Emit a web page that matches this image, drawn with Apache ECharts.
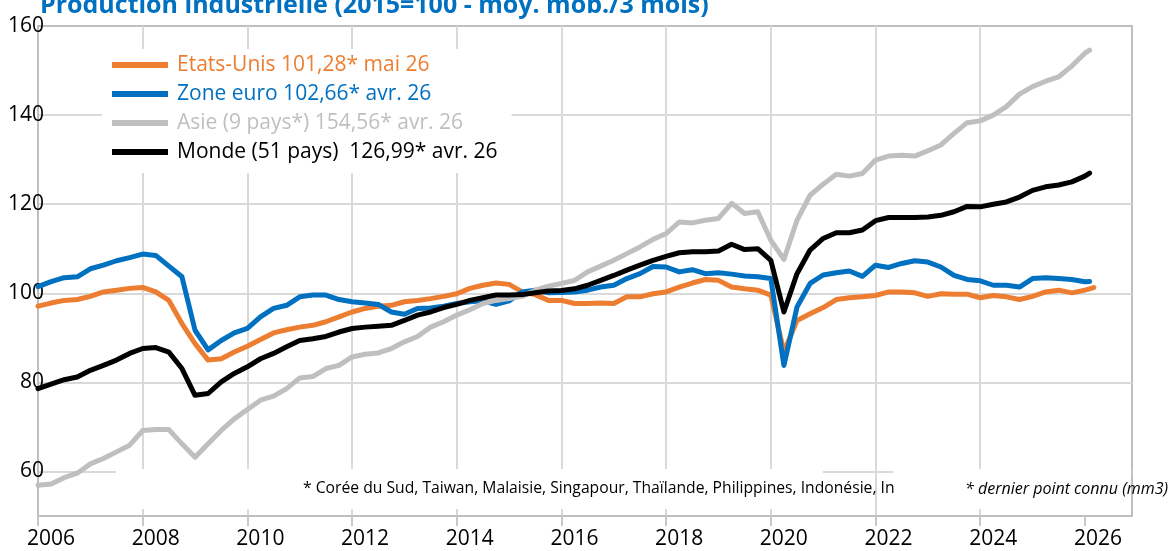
<!DOCTYPE html>
<html>
<head>
<meta charset="utf-8">
<script src="https://cdn.jsdelivr.net/npm/echarts@6/dist/echarts.min.js"></script>
<style>
  html, body { margin: 0; padding: 0; background: #fff; }
  #chart { width: 1173px; height: 551px; }
</style>
</head>
<body>
<div id="chart"></div>
<script>
// dates trimestrielles 2006T1 .. 2026T1, en annees decimales
var quarters = [];
for (var i = 0; i <= 80; i++) quarters.push(2006 + i / 4);

var yearTicks = [2006, 2008, 2010, 2012, 2014, 2016, 2018, 2020, 2022, 2024, 2026];
var valueTicks = [60, 80, 100, 120, 140, 160];

var names = ['Etats-Unis 101,28* mai 26', 'Zone euro 102,66* avr. 26',
             'Asie (9 pays*) 154,56* avr. 26', 'Monde (51 pays)  126,99* avr. 26'];

var usa = [97.1, 97.8, 98.4, 98.6, 99.3, 100.3, 100.7, 101.1, 101.3, 100.3, 98.4, 93.2,
  88.7, 85.0, 85.3, 86.8, 88.1, 89.6, 91.1, 91.8, 92.4, 92.8, 93.6, 94.7,
  95.8, 96.6, 97.1, 97.3, 98.1, 98.4, 98.8, 99.3, 99.9, 101.1, 101.8, 102.3,
  102.0, 100.3, 99.7, 98.4, 98.4, 97.7, 97.7, 97.8, 97.7, 99.2, 99.2, 99.9,
  100.3, 101.4, 102.3, 103.1, 102.9, 101.4, 101.0, 100.7, 99.6, 86.8, 93.9, 95.4,
  96.8, 98.6, 99.0, 99.2, 99.5, 100.3, 100.3, 100.1, 99.3, 99.9, 99.8, 99.8,
  99.0, 99.5, 99.2, 98.6, 99.3, 100.3, 100.7, 100.1, 100.7];
var usaLast = [2026.17, 101.28];

var euro = [101.5, 102.6, 103.5, 103.7, 105.5, 106.3, 107.3, 108.0, 108.8, 108.5, 106.1, 103.7,
  91.7, 87.3, 89.4, 91.1, 92.1, 94.7, 96.6, 97.3, 99.2, 99.6, 99.6, 98.6,
  98.1, 97.8, 97.5, 95.8, 95.3, 96.6, 96.7, 97.1, 97.7, 98.1, 98.3, 97.5,
  98.3, 100.3, 100.7, 100.1, 100.2, 100.3, 100.7, 101.4, 101.8, 103.3, 104.4, 106.0,
  105.9, 104.8, 105.3, 104.4, 104.6, 104.3, 103.9, 103.7, 103.3, 83.8, 96.9, 102.2,
  104.1, 104.6, 105.0, 103.8, 106.3, 105.8, 106.7, 107.3, 107.0, 105.9, 104.0, 103.1,
  102.8, 101.8, 101.8, 101.4, 103.3, 103.5, 103.3, 103.1, 102.6];
var euroLast = [2026.09, 102.66];

var asie = [56.9, 57.2, 58.6, 59.6, 61.7, 62.9, 64.4, 65.9, 69.2, 69.4, 69.4, 66.2,
  63.2, 66.2, 69.2, 71.8, 73.9, 76.0, 76.9, 78.6, 81.0, 81.3, 83.1, 83.8,
  85.7, 86.3, 86.6, 87.6, 89.1, 90.3, 92.4, 93.6, 95.1, 96.3, 97.7, 98.4,
  98.8, 99.3, 100.7, 101.6, 102.2, 102.9, 104.8, 106.1, 107.4, 108.9, 110.4, 112.1,
  113.4, 116.0, 115.8, 116.4, 116.8, 120.2, 117.9, 118.3, 111.9, 107.6, 116.4, 122.0,
  124.5, 126.7, 126.3, 126.9, 129.9, 130.8, 131.0, 130.8, 132.0, 133.3, 135.9, 138.3,
  138.7, 140.0, 141.9, 144.7, 146.4, 147.6, 148.6, 151.0, 153.9];
var asieLast = [2026.09, 154.56];

var monde = [78.6, 79.6, 80.6, 81.2, 82.7, 83.8, 85.0, 86.5, 87.6, 87.8, 86.8, 83.1,
  77.1, 77.5, 80.1, 82.0, 83.5, 85.3, 86.5, 88.0, 89.4, 89.8, 90.3, 91.3,
  92.1, 92.4, 92.6, 92.8, 93.9, 95.1, 95.8, 96.8, 97.5, 98.4, 99.0, 99.6,
  99.6, 99.7, 100.1, 100.5, 100.6, 101.0, 101.8, 102.9, 104.0, 105.2, 106.3, 107.4,
  108.3, 109.1, 109.3, 109.3, 109.5, 111.0, 109.8, 110.0, 107.4, 95.8, 104.4, 109.7,
  112.3, 113.6, 113.6, 114.2, 116.3, 117.0, 117.0, 117.0, 117.1, 117.5, 118.3, 119.5,
  119.4, 120.0, 120.5, 121.6, 123.1, 123.9, 124.3, 125.0, 126.3];
var mondeLast = [2026.09, 126.99];

var colors = ['#ED7D31', '#0070C0', '#BFBFBF', '#000000'];
var FONT = '"Open Sans", "Noto Sans", sans-serif';

function pairs(vals, last) {
  var out = vals.map(function (v, i) { return [quarters[i], v]; });
  out.push(last);
  return out;
}

var seriesData = [pairs(usa, usaLast), pairs(euro, euroLast), pairs(asie, asieLast), pairs(monde, mondeLast)];

var chart = echarts.init(document.getElementById('chart'));

var option = {
  backgroundColor: '#fff',
  animation: false,
  grid: {
    left: 38, right: 41, top: 26, bottom: 35,
    show: true, borderColor: '#bfbfbf', borderWidth: 2
  },
  xAxis: {
    type: 'value',
    min: 2006, max: 2026.9,
    axisLine: { show: true, lineStyle: { color: '#bfbfbf', width: 2 } },
    axisTick: { show: true, length: 10, customValues: yearTicks, lineStyle: { color: '#c8c8c8', width: 2 } },
    axisLabel: {
      customValues: yearTicks,
      margin: 13,
      padding: [0, 0, 0, 26],
      color: '#000', fontSize: 21, fontFamily: FONT,
      formatter: function (v) { return String(v); }
    },
    splitLine: { show: true, showMinLine: false, showMaxLine: false, lineStyle: { color: '#d9d9d9', width: 2 } }
  },
  yAxis: {
    type: 'value',
    min: 50, max: 160,
    axisLine: { show: true, lineStyle: { color: '#bfbfbf', width: 2 } },
    axisTick: { show: false, customValues: valueTicks },
    axisLabel: {
      customValues: valueTicks,
      margin: -6,
      padding: [0, 0, 14, 0],
      color: '#000', fontSize: 21, fontFamily: FONT
    },
    splitLine: { show: true, showMaxLine: false, lineStyle: { color: '#d9d9d9', width: 2 } }
  },
  legend: {
    orient: 'vertical',
    left: 102, top: 49,
    padding: [4, 14, 9, 10],
    backgroundColor: '#fff',
    itemWidth: 56, itemHeight: 6, itemGap: 5,
    icon: 'rect',
    textStyle: { fontSize: 21, fontFamily: FONT, lineHeight: 24, padding: [0, 0, 0, 4] },
    data: names.map(function (n, i) { return { name: n, textStyle: { color: colors[i] } }; })
  },
  graphic: [
    { type: 'rect', z: 1, shape: { x: 116, y: 469, width: 707, height: 40 }, style: { fill: '#fff' } },
    { type: 'rect', z: 1, shape: { x: 893, y: 469, width: 238, height: 40 }, style: { fill: '#fff' } },
    { type: 'text', z: 10, x: 40, y: 18,
      style: { text: 'Production industrielle (2015=100 - moy. mob./3 mois)', fill: '#0070C0',
               font: 'bold 25px ' + FONT, verticalAlign: 'bottom' } },
    { type: 'text', z: 10, x: 303, y: 489,
      style: { text: '* Corée du Sud, Taiwan, Malaisie, Singapour, Thaïlande, Philippines, Indonésie, In',
               fill: '#000', font: '15.7px ' + FONT, verticalAlign: 'middle' } },
    { type: 'text', z: 10, x: 965, y: 489,
      style: { text: '* dernier point connu (mm3)', fill: '#000', font: 'italic 16px ' + FONT, verticalAlign: 'middle' } }
  ],
  series: names.map(function (n, i) {
    return {
      name: n,
      type: 'line',
      data: seriesData[i],
      showSymbol: false,
      symbol: 'none',
      lineStyle: { color: colors[i], width: 5, cap: 'round', join: 'round' },
      itemStyle: { color: colors[i] }
    };
  })
};

chart.setOption(option);
</script>
</body>
</html>
